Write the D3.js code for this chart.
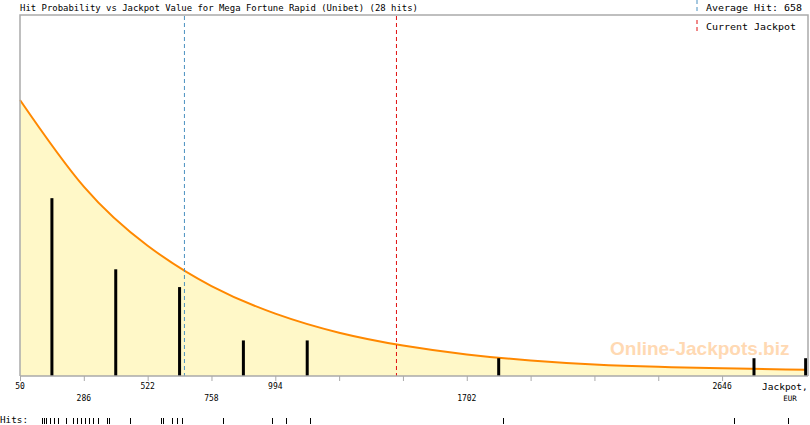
<!DOCTYPE html>
<html><head><meta charset="utf-8">
<script src="https://cdn.jsdelivr.net/npm/d3@7"></script>
<style>html,body{margin:0;padding:0;background:#fff;}svg{display:block;}</style>
</head><body>
<svg id="chart" width="810" height="425"></svg>
<script>
// ---- data ----
const title = "Hit Probability vs Jackpot Value for Mega Fortune Rapid (Unibet) (28 hits)";
const averageHit = 658;
const currentJackpot = 1442;
const tickValues = [50, 286, 522, 758, 994, 1230, 1466, 1702, 1938, 2174, 2410, 2646];
const labelsRow1 = [50, 522, 994, 2646];
const labelsRow2 = [286, 758, 1702];
const curveX = [50, 286, 522, 758, 994, 1230, 1466, 1702, 1938, 2174, 2410, 2646, 2882, 2960];
const curveProb = [1.000, 0.686, 0.472, 0.326, 0.226, 0.157, 0.1105, 0.0783, 0.0562, 0.0417, 0.0333, 0.0279, 0.0236, 0.0225];
const barX = [168, 404, 640, 876, 1112, 1820, 2764, 2955];
const barHits = [10, 6, 5, 2, 2, 1, 1, 1];
const hits = [132, 139, 145, 161, 176, 192, 219, 245, 260, 274, 290, 305, 321, 340, 373, 380, 457,
              572, 580, 613, 629, 648, 802, 983, 1033, 1122, 1837, 2691, 2891];

// ---- layout ----
const L = 20, R = 808, T = 15, B = 376;
const svg = d3.select("#chart");
const mono = "'DejaVu Sans Mono', 'Liberation Mono', monospace";

const x = d3.scaleLinear().domain([50, 2960]).range([L, 807]);
const yProb = d3.scaleLinear().domain([0, (B - T) / 276]).range([B, T]);
const yHits = d3.scaleLinear().domain([0, 20.3]).range([B, T]);

// area under curve
const area = d3.area().x((d, i) => x(curveX[i])).y0(B).y1(d => yProb(d)).curve(d3.curveNatural);
const line = d3.line().x((d, i) => x(curveX[i])).y(d => yProb(d)).curve(d3.curveNatural);
svg.append("path").datum(curveProb).attr("d", area).attr("fill", "#fff8c8");

// watermark
svg.append("text").attr("x", 610).attr("y", 354.5)
  .attr("font-family", "'Liberation Sans', Arial, sans-serif").attr("font-weight", "bold")
  .attr("font-size", 19).attr("fill", "#ffd9b3").text("Online-Jackpots.biz");

svg.append("path").datum(curveProb).attr("d", line).attr("fill", "none")
  .attr("stroke", "#ff8800").attr("stroke-width", 2);

// bars
svg.append("g").selectAll("rect").data(barHits).join("rect")
  .attr("x", (d, i) => Math.min(x(barX[i]), R - 2) - 1.5)
  .attr("width", 3)
  .attr("y", d => yHits(d))
  .attr("height", d => B - yHits(d))
  .attr("fill", "#000");

// vertical reference lines
svg.append("line").attr("x1", x(averageHit)).attr("x2", x(averageHit)).attr("y1", T + 1).attr("y2", B)
  .attr("stroke", "#4a90c0").attr("stroke-width", 1).attr("stroke-dasharray", "4,3");
svg.append("line").attr("x1", x(currentJackpot)).attr("x2", x(currentJackpot)).attr("y1", T + 1).attr("y2", B)
  .attr("stroke", "#e01010").attr("stroke-width", 1).attr("stroke-dasharray", "4,3");

// frame
svg.append("path").attr("d", `M${L},${B}V${T}H${R}V${B}`).attr("fill", "none")
  .attr("stroke", "#aaaaaa").attr("stroke-width", 1.5);

// x axis
const axis = d3.axisBottom(x).tickValues(tickValues).tickSize(5).tickFormat("");
const ax = svg.append("g").attr("transform", `translate(0,${B})`).call(axis);
ax.select(".domain").attr("stroke", "#aaaaaa").attr("stroke-width", 1.5).attr("d", `M${L},0H${R}`);
ax.selectAll(".tick line").attr("stroke", "#aaaaaa");

svg.append("g").selectAll("text").data(labelsRow1).join("text")
  .attr("x", d => x(d)).attr("y", 389).attr("text-anchor", "middle")
  .attr("font-family", mono).attr("font-size", 8).attr("fill", "#000").text(d => d);
svg.append("g").selectAll("text").data(labelsRow2).join("text")
  .attr("x", d => x(d)).attr("y", 401).attr("text-anchor", "middle")
  .attr("font-family", mono).attr("font-size", 8).attr("fill", "#000").text(d => d);

svg.append("text").attr("x", 762).attr("y", 390).attr("font-family", mono).attr("font-size", 9.5)
  .attr("fill", "#000").text("Jackpot,");
svg.append("text").attr("x", 790).attr("y", 401).attr("text-anchor", "middle").attr("font-family", mono)
  .attr("font-size", 7.5).attr("fill", "#000").text("EUR");

// title
svg.append("text").attr("x", 20).attr("y", 11).attr("font-family", mono).attr("font-size", 9.5)
  .attr("textLength", 398).attr("lengthAdjust", "spacingAndGlyphs").attr("fill", "#000").text(title);

// legend
svg.append("line").attr("x1", 697).attr("x2", 697).attr("y1", 0).attr("y2", 12)
  .attr("stroke", "#4a90c0").attr("stroke-dasharray", "4,3");
svg.append("text").attr("x", 706).attr("y", 11).attr("font-family", mono).attr("font-size", 9.5)
  .attr("textLength", 96).attr("lengthAdjust", "spacingAndGlyphs").attr("fill", "#000")
  .text("Average Hit: " + averageHit);
svg.append("line").attr("x1", 697).attr("x2", 697).attr("y1", 20).attr("y2", 34)
  .attr("stroke", "#e01010").attr("stroke-dasharray", "4,3");
svg.append("text").attr("x", 706).attr("y", 30).attr("font-family", mono).attr("font-size", 9.5)
  .attr("textLength", 90).attr("lengthAdjust", "spacingAndGlyphs").attr("fill", "#000")
  .text("Current Jackpot");

// hits strip
svg.append("text").attr("x", 0).attr("y", 423).attr("font-family", mono).attr("font-size", 9.5)
  .attr("textLength", 28).attr("lengthAdjust", "spacingAndGlyphs").attr("fill", "#000").text("Hits:");
svg.append("g").selectAll("line").data(hits).join("line")
  .attr("x1", d => Math.round(x(d)) + 0.5).attr("x2", d => Math.round(x(d)) + 0.5)
  .attr("y1", 418).attr("y2", 424).attr("stroke", "#000").attr("stroke-width", 1);
</script>
</body></html>
